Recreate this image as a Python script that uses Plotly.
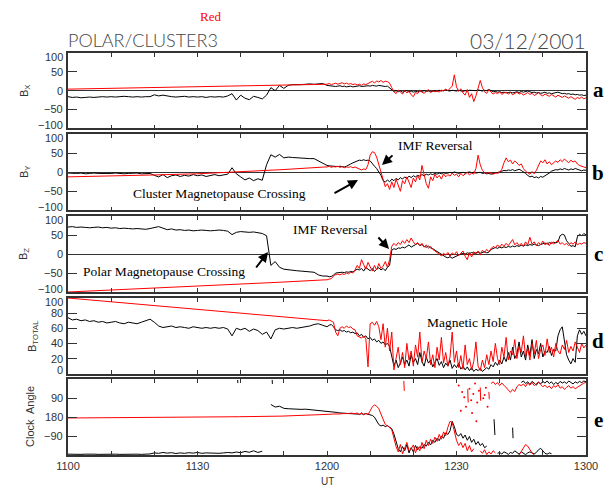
import numpy as np
import plotly.graph_objects as go
from plotly.subplots import make_subplots

# ---------------- data: time in minutes after 11:00 UT ----------------
BLACK_L_SPAN = (0.0, 59.0)    # Polar (black), 1-min samples
RED_L_SPAN = (0.0, 59.5)      # Cluster (red) smooth early part
RIGHT_SPAN = (60.0, 120.0)    # 0.5-min samples

# Panel a: Bx
BX_BLACK_L = [-16,-18,-17,-19,-18,-17,-18,-17,-16,-17,
              -16,-17,-16,-15,-16,-17,-16,-17,-16,-16,
              -11,-14,-12,-15,-16,-17,-16,-15,-17,-16,
              -17,-16,-18,-16,-17,-16,-17,-14,-8,-25,
              -12,-20,-24,-15,-18,-22,-12,8,0,14,
              6,14,16,15,16,17,18,17,18,19]
BX_BLACK_R = [14,13,12,13,11,12,13,11,12,10,11,12,10,11,12,13,11,12,14,13,12,14,13,12,14,13,12,11,12,8,
              2,-2,0,-3,-1,-4,-2,0,-3,-1,-4,-2,-3,-1,-2,0,-2,-1,-3,-1,0,-2,1,-1,0,2,0,-1,1,0,
              -1,1,0,-2,0,-1,1,0,-1,0,2,0,-1,1,0,3,1,-3,-2,-4,-3,-5,-4,-6,-5,-4,-6,-5,-3,-5,
              -2,-4,-3,-1,-3,-5,-4,-6,-5,-7,-6,-4,-7,-6,-8,-7,-5,-4,-6,-8,-7,-9,-8,-10,-9,-11,
              -10,-12,-11,-13,-12]
BX_RED_L = [4, 6, 8, 10, 12, 14, 17]
BX_RED_R = [17,19,16,18,20,17,19,21,18,20,17,19,16,18,15,17,14,18,16,19,22,25,20,26,23,27,22,25,24,20,
            8,-3,-8,2,-4,-9,0,-6,-2,-11,-16,-5,-8,1,-4,-7,-2,3,-5,-1,-3,0,-4,2,-1,4,0,6,12,42,
            10,-2,5,-6,-12,3,-18,-8,-29,-14,5,27,8,-3,-7,2,-4,-9,-5,-8,-3,-10,-6,-4,-9,-5,-11,-7,-4,-9,
            -6,-12,-8,-5,-10,-7,-13,-9,-6,-11,-14,-9,-12,-15,-10,-13,-17,-12,-15,-18,-14,-17,-20,-16,-19,-23,
            -18,-21,-17,-22,-19]

# Panel b: By
BY_BLACK_L = [-2,-3,-3,-2,-4,-3,-2,-3,-3,-4,
              -3,-2,-3,-4,-3,-3,-2,-4,-3,-3,
              -8,-12,-6,-14,-9,-7,-11,-8,-10,-6,
              -9,-7,-11,-8,-6,-9,-7,-5,12,-4,
              -12,-20,-15,-22,-17,-21,20,46,40,47,
              38,40,39,38,38,37,36,36,30,22]
BY_BLACK_R = [18,17,16,17,16,15,16,15,14,16,18,22,25,28,30,32,31,33,31,32,30,22,16,10,2,-8,-22,-26,-20,-25,
              -18,-22,-16,-20,-14,-18,-12,-16,-10,-14,-9,-12,-8,-10,-6,-9,-5,-7,-4,-6,-3,-5,-2,-4,-1,-3,-2,0,-2,1,
              -1,-3,-1,0,-2,-1,1,-1,0,-2,-1,0,-3,-2,-4,-3,-5,-4,-3,-2,1,3,5,4,6,5,7,4,6,8,
              5,2,-3,-8,-12,-10,-14,-12,-15,-11,-13,-9,-6,-2,3,5,7,6,9,7,10,8,6,9,7,10,8,5,4,6,5]
BY_RED_L = [-12, -10, -7, -4, 1, 7, 14]
BY_RED_R = [14,16,13,15,14,16,13,15,12,14,13,15,12,14,11,8,6,9,7,20,45,54,52,40,22,0,-20,-38,-30,-45,
            -25,-40,-18,-35,-50,-22,-30,-12,-28,-40,-15,-25,-8,-20,18,-10,-30,-42,-12,-22,-5,-15,-8,-18,-4,-12,-6,-10,-2,-8,
            -5,-12,-3,-9,-4,0,-7,-2,-5,10,45,20,5,-1,-3,0,-2,-5,-1,-3,0,8,25,38,28,32,22,30,25,18,
            22,10,3,-2,-5,2,-4,5,20,30,25,33,22,28,20,24,30,26,33,28,35,30,25,32,27,30,22,18,15,14,12]

# Panel c: Bz
BZ_BLACK_L = [71,72,70,71,70,69,70,71,69,70,
              68,69,67,68,67,66,67,66,65,67,
              70,72,68,64,66,63,64,62,63,61,
              62,63,62,61,62,63,62,60,51,57,
              59,58,57,58,55,54,48,-30,-20,-35,
              -40,-42,-43,-44,-45,-46,-47,-48,-55,-58]
BZ_BLACK_R = [-58,-60,-59,-56,-50,-49,-50,-48,-49,-47,-48,-46,-47,-44,-40,-42,-38,-45,-35,-40,-44,-38,-46,-40,-36,-42,-38,-44,-35,-30,
              10,14,12,16,15,18,16,20,24,18,22,26,28,22,25,20,18,21,16,14,10,6,2,-2,-6,-8,-10,-7,-11,-8,
              -4,-2,0,2,0,3,1,4,2,3,5,2,4,6,3,5,12,14,17,15,18,16,19,17,20,18,21,19,22,20,
              23,21,24,22,25,23,26,24,22,25,27,29,26,30,28,31,29,32,48,52,50,35,28,20,22,19,45,52,48,54,50]
BZ_RED_L = [-100, -95, -90, -85, -79, -74, -68]
BZ_RED_R = [-68,-66,-65,-58,-54,-53,-55,-52,-54,-50,-52,-48,-50,-42,-30,-38,-15,-28,-40,-22,-35,-45,-30,-42,-25,-38,-32,-20,-35,-15,
            20,28,22,30,25,35,28,38,30,42,32,25,30,22,28,18,24,15,20,12,8,4,0,-5,2,-3,4,-6,3,-2,
            6,-4,2,8,-6,-15,4,-8,6,0,8,-3,10,4,12,6,14,20,16,24,18,26,20,28,22,30,38,24,30,22,
            28,20,32,24,44,26,32,22,30,25,34,24,30,22,32,26,30,36,26,30,24,28,22,30,26,32,24,28,26,30,28]

# Panel d: Btotal
BT_BLACK_L = [74,71,72,70,71,69,70,68,69,67,
              68,69,67,66,68,67,66,68,70,72,
              68,63,61,62,63,61,62,61,60,62,
              61,60,61,60,61,60,61,59,50,60,
              58,60,56,59,57,52,55,46,58,60,
              59,60,61,60,61,62,63,65,66,64]
BT_BLACK_R = [62,64,65,62,58,57,58,56,57,55,56,54,55,53,54,50,52,48,50,46,48,44,46,42,44,40,42,38,40,36,
              22,10,18,8,14,22,12,18,10,25,15,20,12,28,16,10,22,14,18,9,15,20,11,16,8,14,10,18,7,12,
              8,14,6,10,5,9,4,8,3,6,4,7,3,5,8,6,12,9,15,11,18,13,22,16,28,18,35,20,26,42,
              22,30,18,38,24,45,20,32,26,40,22,30,28,36,24,32,30,50,58,62,40,25,18,13,20,15,50,58,52,56,50]
BT_RED_L = [100, 95, 90, 85, 80, 75, 70]
BT_RED_R = [70,71,69,68,55,50,60,62,60,63,61,62,59,58,50,48,47,50,46,9,66,68,64,69,62,45,66,35,60,30,
            55,5,20,35,12,28,8,40,18,30,10,38,22,55,15,30,20,42,12,25,8,35,18,48,14,28,10,22,55,15,
            30,8,24,6,38,12,20,5,16,42,10,4,18,8,25,12,30,16,40,20,12,35,22,48,18,30,25,45,20,36,
            28,50,22,34,18,40,26,44,20,32,38,24,46,28,35,22,40,30,26,38,32,44,28,36,30,42,35,28,40,34,38]

# Panel e: clock angle (degrees, 0 at top, 360 at bottom)
CA_BLACK_L = [356,357,356,357,356,355,356,357,356,356,
              355,356,357,356,355,356,356,357,356,355,
              350,352,348,351,349,353,350,352,349,351,
              348,352,350,351,349,352,350,348,350,346,
              349,343,347,340,348,342,None,120,132,128,
              138,140,142,141,143,142,144,145,146,148]
CA_BLACK_R_SPAN = (60.0, 97.0)
CA_BLACK_R = [150,152,154,155,157,158,160,161,162,163,164,164,165,166,165,166,164,166,163,165,
              168,172,180,195,215,222,218,225,220,228,235,260,290,330,345,320,340,310,350,325,
              345,315,335,320,328,310,318,300,312,290,300,280,292,270,280,255,262,245,200,225,
              262,270,258,280,265,290,272,300,285,310,296,315,305,325,318]
CA_BLACK_LOW_SPAN = (99.5, 112.0)
CA_BLACK_LOW = [352,348,355,345,350,357,348,352,340,350,356,345,353,358,350,345,350,355,348,335,
                328,340,352,356,350,354]
CA_BLACK_TOP_SPAN = (105.0, 120.0)
CA_BLACK_TOP = [15,8,20,12,25,10,18,28,14,22,10,18,8,20,12,25,15,22,10,18,12,20,8,15,22,12,18,10,16,8,12]
CA_BLACK_MARK_T = [39.3, 39.35, None, 47.3, 47.35, None, 98.7, 98.8, 98.9, None, 103.0, 103.1]
CA_BLACK_MARK_V = [3, 18, None, 3, 22, None, 190, 215, 265, None, 230, 280]

CA_RED_L = [184, 183, 182, 180, 178, 175, 170]
CA_RED_R_SPAN = (60.0, 99.5)
CA_RED_R = [168,167,166,165,166,164,165,163,164,162,163,161,162,163,160,168,158,170,162,168,
            150,130,122,128,140,165,195,215,222,228,240,280,320,345,310,355,325,300,340,330,
            312,350,320,340,300,330,290,315,285,305,275,295,262,285,250,268,228,200,205,248,
            290,315,300,325,305,340,315,345,330,None,None,340,352,335,358,345,355,340,350,None]
CA_RED_TOP_SPAN = (98.0, 120.0)
CA_RED_TOP = [20,12,25,15,30,18,28,40,55,62,48,58,35,25,30,22,35,18,28,15,30,22,12,25,35,28,40,32,45,30,
              38,25,42,35,48,38,30,42,35,45,38,30,25,18,15]
CA_RED_LOW2_SPAN = (104.5, 108.0)
CA_RED_LOW2 = [360, 345, 325, 310, 318, 335, 350, 360]
CA_RED_STROKE_T = [77.8, 77.9, None, 92.6, 92.7, None, 95.5, 95.6, None, 97.5, 97.6]
CA_RED_STROKE_V = [8, 55, None, 47, 110, None, 39, 102, None, 60, 95]
CA_RED_DOT_T = [90.5, 91.3, 91.8, 92.2, 93.0, 93.4, 93.9, 94.3, 94.8, 95.2, 96.2, 96.8, 97.2, 91.0, 93.6, 94.6, 96.5]
CA_RED_DOT_V = [30, 60, 85, 130, 45, 100, 70, 20, 110, 55, 90, 40, 130, 150, 160, 200, 75]

X_TICKS = list(range(0, 121, 10))
X_TICKTEXT = ['1100', '', '', '1130', '', '', '1200', '', '', '1230', '', '', '1300']

# y tick values / labels per panel
Y_RANGES = [(-100, 100), (-100, 100), (-100, 100), (0, 100), (360, 0)]
Y_TICKS = [[-100, -50, 0, 50, 100]] * 3 + [[0, 20, 40, 60, 80, 100], [90, 180, 270]]
Y_TICKTEXT = [['\u2212100', '\u221250', '0', '50', '100']] * 3 + \
             [['0', '20', '40', '60', '80', '100'], ['90', '180', '\u221290']]


def seg(span, vals):
    return list(np.linspace(span[0], span[1], len(vals))), list(vals)


def join(*parts):
    t, v = [], []
    for p in parts:
        t += p[0]
        v += p[1]
    return t, v


BLACK = '#000000'
RED = '#ff0000'

fig = make_subplots(rows=5, cols=1, shared_xaxes=True, vertical_spacing=0.01)


def line(row, t, v, color, width=1.0):
    fig.add_trace(go.Scatter(x=t, y=v, mode='lines', line=dict(color=color, width=width),
                             connectgaps=False, hoverinfo='skip', showlegend=False), row=row, col=1)


panels = [
    (BX_BLACK_L, BX_BLACK_R, BX_RED_L, BX_RED_R),
    (BY_BLACK_L, BY_BLACK_R, BY_RED_L, BY_RED_R),
    (BZ_BLACK_L, BZ_BLACK_R, BZ_RED_L, BZ_RED_R),
    (BT_BLACK_L, BT_BLACK_R, BT_RED_L, BT_RED_R),
]
for i, (bl, br, rl, rr) in enumerate(panels):
    tb, vb = join(seg(BLACK_L_SPAN, bl), seg(RIGHT_SPAN, br))
    tr, vr = join(seg(RED_L_SPAN, rl), seg(RIGHT_SPAN, rr))
    line(i + 1, tb, vb, BLACK)
    line(i + 1, tr, vr, RED)

# clock angle panel
t, v = join(seg(BLACK_L_SPAN, CA_BLACK_L), seg(CA_BLACK_R_SPAN, CA_BLACK_R))
line(5, t, v, BLACK)
line(5, *seg(CA_BLACK_LOW_SPAN, CA_BLACK_LOW), BLACK)
line(5, *seg(CA_BLACK_TOP_SPAN, CA_BLACK_TOP), BLACK)
line(5, CA_BLACK_MARK_T, CA_BLACK_MARK_V, BLACK)
t, v = join(seg(RED_L_SPAN, CA_RED_L), seg(CA_RED_R_SPAN, CA_RED_R))
line(5, t, v, RED)
line(5, *seg(CA_RED_TOP_SPAN, CA_RED_TOP), RED)
line(5, *seg(CA_RED_LOW2_SPAN, CA_RED_LOW2), RED)
line(5, CA_RED_STROKE_T, CA_RED_STROKE_V, RED)
fig.add_trace(go.Scatter(x=CA_RED_DOT_T, y=CA_RED_DOT_V, mode='markers',
                         marker=dict(color=RED, size=2), hoverinfo='skip', showlegend=False), row=5, col=1)

# ---------------- layout ----------------
W, H = 613, 496
ML, MR, MT, MB = 68, 27, 53, 41
PW, PH = W - ML - MR, H - MT - MB


def px2x(px):
    return (px - ML) / PW


def px2y(py):
    return (H - MB - py) / PH


panel_px = [(53, 128.3), (134.3, 210.3), (216, 292), (298, 373.7), (379.3, 455)]
AX = dict(showline=True, linecolor='#333333', linewidth=1.5, mirror='allticks', ticks='inside',
          tickcolor='#333333', showgrid=False,
          tickfont=dict(family='Liberation Sans, Arial, sans-serif', size=11, color='#333333'))

for i, (ptop, pbot) in enumerate(panel_px):
    r = i + 1
    fig.update_yaxes(domain=[max(0, px2y(pbot)), min(1, px2y(ptop))], row=r, col=1, **AX,
                     ticklen=9, range=list(Y_RANGES[i]), tickvals=Y_TICKS[i],
                     showticklabels=False, zeroline=(i < 3), zerolinecolor='#333333', zerolinewidth=1.2)
    fig.update_xaxes(range=[0, 120], tickvals=X_TICKS, ticktext=X_TICKTEXT, ticklen=4,
                     zeroline=False, row=r, col=1, **AX)
fig.update_xaxes(showticklabels=True, row=5, col=1)

ann = []
SANS = 'Liberation Sans, Arial, sans-serif'
SERIF = 'Liberation Serif, Times New Roman, serif'
TITLEF = 'Lato, Liberation Sans, Arial, sans-serif'


def text(px, py, s, size, family, color='#000000', xanchor='center', angle=0, bold=False, weight=None):
    if bold:
        s = '<b>' + s + '</b>'
    f = dict(family=family, size=size, color=color)
    if weight is not None:
        f['weight'] = weight
    ann.append(dict(x=px2x(px), y=px2y(py), xref='paper', yref='paper', text=s, showarrow=False,
                    xanchor=xanchor, yanchor='middle', textangle=angle, font=f))


def arrow(hx, hy, tx, ty):
    ann.append(dict(x=px2x(hx), y=px2y(hy), xref='paper', yref='paper', text='', showarrow=True,
                    ax=tx - hx, ay=ty - hy, arrowhead=2, arrowsize=1, arrowwidth=2,
                    arrowcolor='#000000', standoff=0, startstandoff=0))


# y tick labels (IDL draws edge labels nudged inside the panel)
for i, (ptop, pbot) in enumerate(panel_px):
    lo, hi = Y_RANGES[i]
    for val, lab in zip(Y_TICKS[i], Y_TICKTEXT[i]):
        frac = (hi - val) / (hi - lo)
        py = ptop + frac * (pbot - ptop)
        if abs(frac) < 1e-6:
            py += 3.5
        elif abs(frac - 1) < 1e-6:
            py -= 3.5
        text(65, py, lab, 11, SANS, color='#333333', xanchor='right')

text(210, 17, 'Red', 13, SERIF, color='#ff0000')
text(66, 40, 'POLAR/CLUSTER3', 18, TITLEF, color='#444444', xanchor='left', weight=300)
text(588, 40, '03/12/2001', 21, TITLEF, color='#444444', xanchor='right', weight=300)
for lab, py in zip('abcde', [90, 173, 254, 341, 420]):
    text(598, py, lab, 21, SERIF, bold=True)
text(25, 91, 'B<sub>X</sub>', 11, SANS, color='#333333', angle=-90)
text(25, 172, 'B<sub>Y</sub>', 11, SANS, color='#333333', angle=-90)
text(24, 254, 'B<sub>Z</sub>', 11, SANS, color='#333333', angle=-90)
text(33, 336, 'B<sub>TOTAL</sub>', 11, SANS, color='#333333', angle=-90)
text(30, 417, 'Clock  Angle', 11, SANS, color='#333333', angle=-90)
text(327, 481, 'UT', 10, SANS, color='#333333')

text(435, 145, 'IMF Reversal', 13.5, SERIF)
text(219, 193, 'Cluster Magnetopause Crossing', 13.5, SERIF)
text(330, 229, 'IMF Reversal', 13.5, SERIF)
text(164, 271, 'Polar Magnetopause Crossing', 13.5, SERIF)
text(467, 322, 'Magnetic Hole', 13.5, SERIF)
arrow(382, 165, 394, 154)
arrow(358, 180, 333, 194)
arrow(389, 249, 377, 236)
arrow(268, 252, 255, 269)

fig.update_layout(width=W, height=H, margin=dict(l=ML, r=MR, t=MT, b=MB, pad=0),
                  paper_bgcolor='white', plot_bgcolor='white', showlegend=False,
                  annotations=ann)

fig.write_html('out.html')
